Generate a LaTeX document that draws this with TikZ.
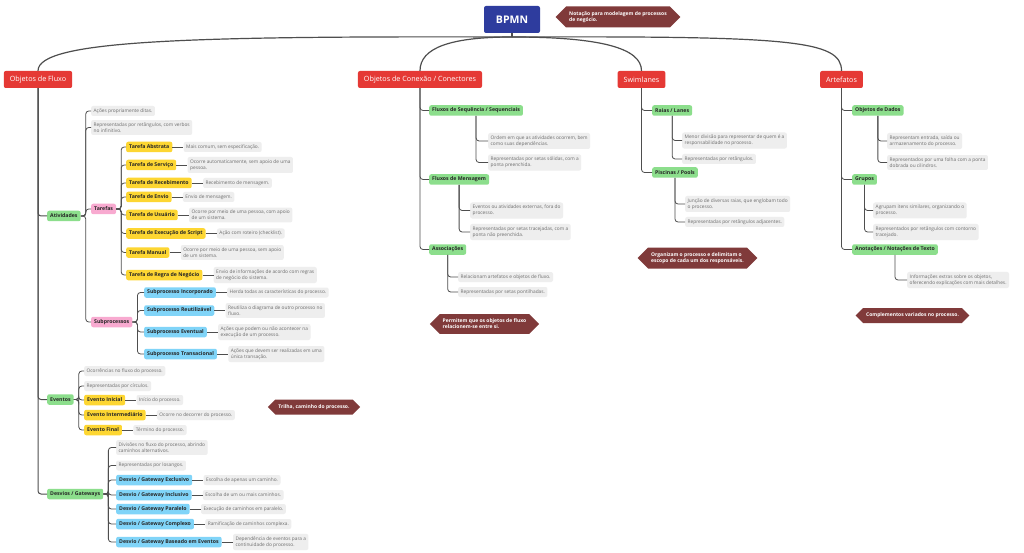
\documentclass[tikz,border=0pt]{standalone}
\usepackage{fontspec}
\setmainfont{Open Sans}
\usepackage{xcolor}
\usepackage{tikz}
\usetikzlibrary{positioning,shapes.symbols}

\definecolor{bpmnblue}{RGB}{46,60,158}
\definecolor{topicred}{RGB}{229,57,53}
\definecolor{notebrown}{RGB}{128,58,58}
\definecolor{leafgreen}{RGB}{140,222,140}
\definecolor{leafpink}{RGB}{248,170,208}
\definecolor{leafyellow}{RGB}{253,214,50}
\definecolor{leafblue}{RGB}{128,212,248}
\definecolor{descgray}{RGB}{238,238,238}
\definecolor{desctext}{RGB}{108,108,108}
\definecolor{linkgray}{RGB}{78,78,78}

\tikzset{
  topic/.style={fill=topicred, text=white, rounded corners=2pt,
    font={\fontsize{7.2}{8}\selectfont}, inner xsep=6pt, inner ysep=0pt, minimum height=17pt},
  leaf/.style={rounded corners=2pt, text=black!85, font={\fontsize{5.2}{6}\selectfont\bfseries},
    inner xsep=3pt, inner ysep=0pt, minimum height=10.5pt, anchor=west},
  leafg/.style={leaf, fill=leafgreen},
  leafp/.style={leaf, fill=leafpink},
  leafy/.style={leaf, fill=leafyellow},
  leafb/.style={leaf, fill=leafblue},
  desc/.style={fill=descgray, text=desctext, rounded corners=2pt, align=left,
    font={\fontsize{4.8}{6.2}\selectfont}, inner xsep=2.5pt, inner ysep=2.5pt, minimum height=10pt, anchor=west},
  notebox/.style={signal, signal to=west and east, signal pointer angle=90, fill=notebrown,
    text=white, align=left, font={\fontsize{5}{6}\selectfont\bfseries}, inner xsep=3pt, inner ysep=5pt},
  branchline/.style={draw=linkgray, line width=0.8pt, rounded corners=3pt},
  trunk/.style={draw=linkgray, line width=1.2pt},
}

\begin{document}
\begin{tikzpicture}[x=1pt, y=-1pt]
  \useasboundingbox[fill=white] (0,0) rectangle (1024,553);

  % Root
  \node[fill=bpmnblue, text=white, rounded corners=2pt, minimum width=56pt, minimum height=27pt,
    font={\fontsize{10.5}{13}\selectfont\bfseries}] (bpmn) at (512,19.5) {BPMN};
  \node[notebox] (bpmn-n) at (618,17) {Notação para modelagem de processos\\de negócio.};
  \coordinate (hub) at (512,37);

  % Main topics
  \node[topic] (fluxo) at (38,79.5) {Objetos de Fluxo};
  \node[topic] (conexao) at (420,79.5) {Objetos de Conexão / Conectores};
  \node[topic] (swim) at (641.5,79.5) {Swimlanes};
  \node[topic] (artef) at (841.5,79.5) {Artefatos};

  \draw[trunk] (bpmn.south) -- (hub);
  \draw[trunk] (hub) .. controls (190,36) and (38,40) .. (fluxo.north);
  \draw[trunk] (hub) .. controls (450,37) and (420,48) .. (conexao.north);
  \draw[trunk] (hub) .. controls (600,37) and (641.5,48) .. (swim.north);
  \draw[trunk] (hub) .. controls (790,36) and (841.5,40) .. (artef.north);

  % Objetos de Fluxo
  \node[leafg] (atv) at (47,216) {Atividades};
  \node[leafg] (evt) at (47,399.5) {Eventos};
  \node[leafg] (desv) at (47,494) {Desvios / Gateways};

  \node[desc] (atv-a) at (91,111) {Ações propriamente ditas.};
  \node[desc] (atv-b) at (91,127.5) {Representadas por retângulos, com verbos\\no infinitivo.};
  \node[leafp] (tar) at (91,209) {Tarefas};
  \node[leafp] (subp) at (91,322) {Subprocessos};

  % Tarefas
  \node[leafy] (t1) at (126,147) {Tarefa Abstrata};
  \node[leafy] (t2) at (126,165) {Tarefa de Serviço};
  \node[leafy] (t3) at (126,183) {Tarefa de Recebimento};
  \node[leafy] (t4) at (126,197) {Tarefa de Envio};
  \node[leafy] (t5) at (126,215) {Tarefa de Usuário};
  \node[leafy] (t6) at (126,233.5) {Tarefa de Execução de Script};
  \node[leafy] (t7) at (126,252.5) {Tarefa Manual};
  \node[leafy] (t8) at (126,275) {Tarefa de Regra de Negócio};
  \node[desc, right=11pt of t1] (t1-d) {Mais comum, sem especificação.};
  \node[desc, right=11pt of t2] (t2-d) {Ocorre automaticamente, sem apoio de uma\\pessoa.};
  \node[desc, right=11pt of t3] (t3-d) {Recebimento de mensagem.};
  \node[desc, right=11pt of t4] (t4-d) {Envio de mensagem.};
  \node[desc, right=11pt of t5] (t5-d) {Ocorre por meio de uma pessoa, com apoio\\de um sistema.};
  \node[desc, right=11pt of t6] (t6-d) {Ação com roteiro (checklist).};
  \node[desc, right=11pt of t7] (t7-d) {Ocorre por meio de uma pessoa, sem apoio\\de um sistema.};
  \node[desc, right=11pt of t8] (t8-d) {Envio de informações de acordo com regras\\de negócio do sistema.};

  % Subprocessos
  \node[leafb] (s1) at (144,292.5) {Subprocesso Incorporado};
  \node[leafb] (s2) at (144,310.5) {Subprocesso Reutilizável};
  \node[leafb] (s3) at (144,332) {Subprocesso Eventual};
  \node[leafb] (s4) at (144,354) {Subprocesso Transacional};
  \node[desc, right=11pt of s1] (s1-d) {Herda todas as características do processo.};
  \node[desc, right=11pt of s2] (s2-d) {Reutiliza o diagrama de outro processo no\\fluxo.};
  \node[desc, right=11pt of s3] (s3-d) {Ações que podem ou não acontecer na\\execução de um processo.};
  \node[desc, right=11pt of s4] (s4-d) {Ações que devem ser realizadas em uma\\única transação.};

  % Eventos
  \node[desc] (evt-a) at (84,371) {Ocorrências no fluxo do processo.};
  \node[desc] (evt-b) at (84,386) {Representadas por círculos.};
  \node[leafy] (e1) at (84,400) {Evento Inicial};
  \node[leafy] (e2) at (84,415) {Evento Intermediário};
  \node[leafy] (e3) at (84,430) {Evento Final};
  \node[desc, right=11pt of e1] (e1-d) {Início do processo.};
  \node[desc, right=11pt of e2] (e2-d) {Ocorre no decorrer do processo.};
  \node[desc, right=11pt of e3] (e3-d) {Término do processo.};
  \node[notebox] (evt-n) at (314,407) {Trilha, caminho do processo.};

  % Desvios
  \node[desc] (desv-a) at (116,447.5) {Divisões no fluxo do processo, abrindo\\caminhos alternativos.};
  \node[desc] (desv-b) at (116,465.5) {Representadas por losangos.};
  \node[leafb] (g1) at (116,480) {Desvio / Gateway Exclusivo};
  \node[leafb] (g2) at (116,495) {Desvio / Gateway Inclusivo};
  \node[leafb] (g3) at (116,509) {Desvio / Gateway Paralelo};
  \node[leafb] (g4) at (116,524) {Desvio / Gateway Complexo};
  \node[leafb] (g5) at (116,542) {Desvio / Gateway Baseado em Eventos};
  \node[desc, right=11pt of g1] (g1-d) {Escolha de apenas um caminho.};
  \node[desc, right=11pt of g2] (g2-d) {Escolha de um ou mais caminhos.};
  \node[desc, right=11pt of g3] (g3-d) {Execução de caminhos em paralelo.};
  \node[desc, right=11pt of g4] (g4-d) {Ramificação de caminhos complexa.};
  \node[desc, right=11pt of g5] (g5-d) {Dependência de eventos para a\\continuidade do processo.};

  \foreach \c in {atv,evt,desv}
    \draw[branchline, line width=1pt] (fluxo.south) |- (\c.west);
  \foreach \c in {atv-a,atv-b,tar,subp}
    \draw[branchline] (atv.east) -- ++(5,0) |- (\c.west);
  \foreach \c in {t1,t2,t3,t4,t5,t6,t7,t8}
    \draw[branchline] (tar.east) -- ++(5,0) |- (\c.west);
  \foreach \c in {s1,s2,s3,s4}
    \draw[branchline] (subp.east) -- ++(5,0) |- (\c.west);
  \foreach \c in {evt-a,evt-b,e1,e2,e3}
    \draw[branchline] (evt.east) -- ++(5,0) |- (\c.west);
  \foreach \c in {desv-a,desv-b,g1,g2,g3,g4,g5}
    \draw[branchline] (desv.east) -- ++(5,0) |- (\c.west);
  \foreach \c in {t1,t2,t3,t4,t5,t6,t7,t8,s1,s2,s3,s4,e1,e2,e3,g1,g2,g3,g4,g5}
    \draw[branchline] (\c) -- (\c-d);

  % Objetos de Conexao
  \node[leafg] (fs) at (429,110.5) {Fluxos de Sequência / Sequenciais};
  \node[leafg] (fm) at (429,179.5) {Fluxos de Mensagem};
  \node[leafg] (fa) at (429,249.5) {Associações};
  \node[desc] (fs-a) at (488,141) {Ordem em que as atividades ocorrem, bem\\como suas dependências.};
  \node[desc] (fs-b) at (488,162.5) {Representadas por setas sólidas, com a\\ponta preenchida.};
  \node[desc] (fm-a) at (470,210.5) {Eventos ou atividades externas, fora do\\processo.};
  \node[desc] (fm-b) at (470,232) {Representadas por setas tracejadas, com a\\ponta não preenchida.};
  \node[desc] (fa-a) at (458,277) {Relacionam artefatos e objetos de fluxo.};
  \node[desc] (fa-b) at (458,292) {Representadas por setas pontilhadas.};
  \node[notebox] (conexao-n) at (484.5,324) {Permitem que os objetos de fluxo\\relacionem-se entre si.};

  % Swimlanes
  \node[leafg] (rl) at (652,110.5) {Raias / Lanes};
  \node[leafg] (pp) at (652,172.5) {Piscinas / Pools};
  \node[desc] (rl-a) at (682,140.5) {Menor divisão para representar de quem é a\\responsabilidade no processo.};
  \node[desc] (rl-b) at (682,159) {Representadas por retângulos.};
  \node[desc] (pp-a) at (685,204) {Junção de diversas raias, que englobam todo\\o processo.};
  \node[desc] (pp-b) at (685,222) {Representadas por retângulos adjacentes.};
  \node[notebox] (swim-n) at (697.5,258) {Organizam o processo e delimitam o\\escopo de cada um dos responsáveis.};

  % Artefatos
  \node[leafg] (od) at (852,110.5) {Objetos de Dados};
  \node[leafg] (gr) at (852,179.5) {Grupos};
  \node[leafg] (an) at (852,249.5) {Anotações / Notações de Texto};
  \node[desc] (od-a) at (887,141) {Representam entrada, saída ou\\armazenamento do processo.};
  \node[desc] (od-b) at (887,162.5) {Representados por uma folha com a ponta\\dobrada ou cilindros.};
  \node[desc] (gr-a) at (873,210.5) {Agrupam itens similares, organizando o\\processo.};
  \node[desc] (gr-b) at (873,232) {Representados por retângulos com contorno\\tracejado.};
  \node[desc] (an-a) at (907,280) {Informações extras sobre os objetos,\\oferecendo explicações com mais detalhes.};
  \node[notebox] (artef-n) at (912.5,315.5) {Complementos variados no processo.};

  \foreach \p/\c in {conexao/fs,conexao/fm,conexao/fa,fs/fs-a,fs/fs-b,fm/fm-a,fm/fm-b,fa/fa-a,fa/fa-b,
      swim/rl,swim/pp,rl/rl-a,rl/rl-b,pp/pp-a,pp/pp-b,
      artef/od,artef/gr,artef/an,od/od-a,od/od-b,gr/gr-a,gr/gr-b,an/an-a}
    \draw[branchline] (\p.south) |- (\c.west);
\end{tikzpicture}
\end{document}
